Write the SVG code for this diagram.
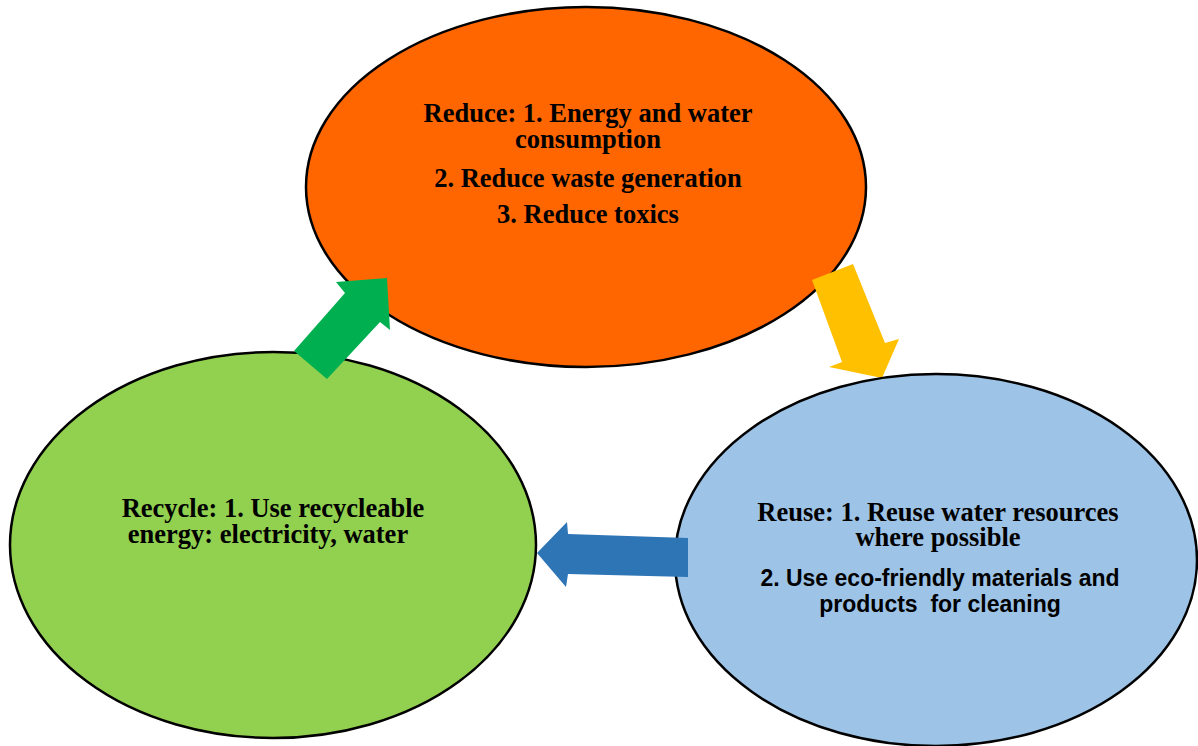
<svg xmlns="http://www.w3.org/2000/svg" width="1198" height="746" viewBox="0 0 1198 746">
<style>
.node{stroke:#000;stroke-width:2.5}
.serif{font-family:"Liberation Serif","Times New Roman",serif;font-weight:bold;font-size:26.5px;fill:#000;text-anchor:middle}
.sans{font-family:"Liberation Sans",Arial,sans-serif;font-weight:bold;font-size:23px;fill:#000;text-anchor:middle}
</style>
<rect width="1198" height="746" fill="#fff"/>
<g id="reduce">
<ellipse class="node" cx="586" cy="187" rx="280" ry="180" fill="#ff6600"/>
<text class="serif" x="588" y="122">Reduce: 1. Energy and water</text>
<text class="serif" x="588" y="148">consumption</text>
<text class="serif" x="588" y="187">2. Reduce waste generation</text>
<text class="serif" x="588" y="223">3. Reduce toxics</text>
</g>
<g id="recycle">
<ellipse class="node" cx="273" cy="545" rx="263" ry="193" fill="#92d050"/>
<text class="serif" x="273" y="517">Recycle: 1. Use recycleable</text>
<text class="serif" x="268" y="543">energy: electricity, water</text>
</g>
<g id="connectors-back">
<polygon points="812,280 853,264 885,343 899,339 882,378 829,367 842,362" fill="#ffc000"/>
</g>
<g id="reuse">
<ellipse class="node" cx="936" cy="560" rx="261" ry="186" fill="#9dc3e6"/>
<text class="serif" x="938" y="521">Reuse: 1. Reuse water resources</text>
<text class="serif" x="938" y="546">where possible</text>
<text class="sans" x="940" y="586">2. Use eco-friendly materials and</text>
<text class="sans" x="940" y="612" xml:space="preserve">products  for cleaning</text>
</g>
<g id="connectors">
<polygon points="294,351 327,379 380,322 390,330 387,278 336,282 345,293" fill="#00b050"/>
<polygon points="688,538 568,534 567,522 537,553 566,587 568,574 688,577" fill="#2e75b6"/>
</g>
</svg>
